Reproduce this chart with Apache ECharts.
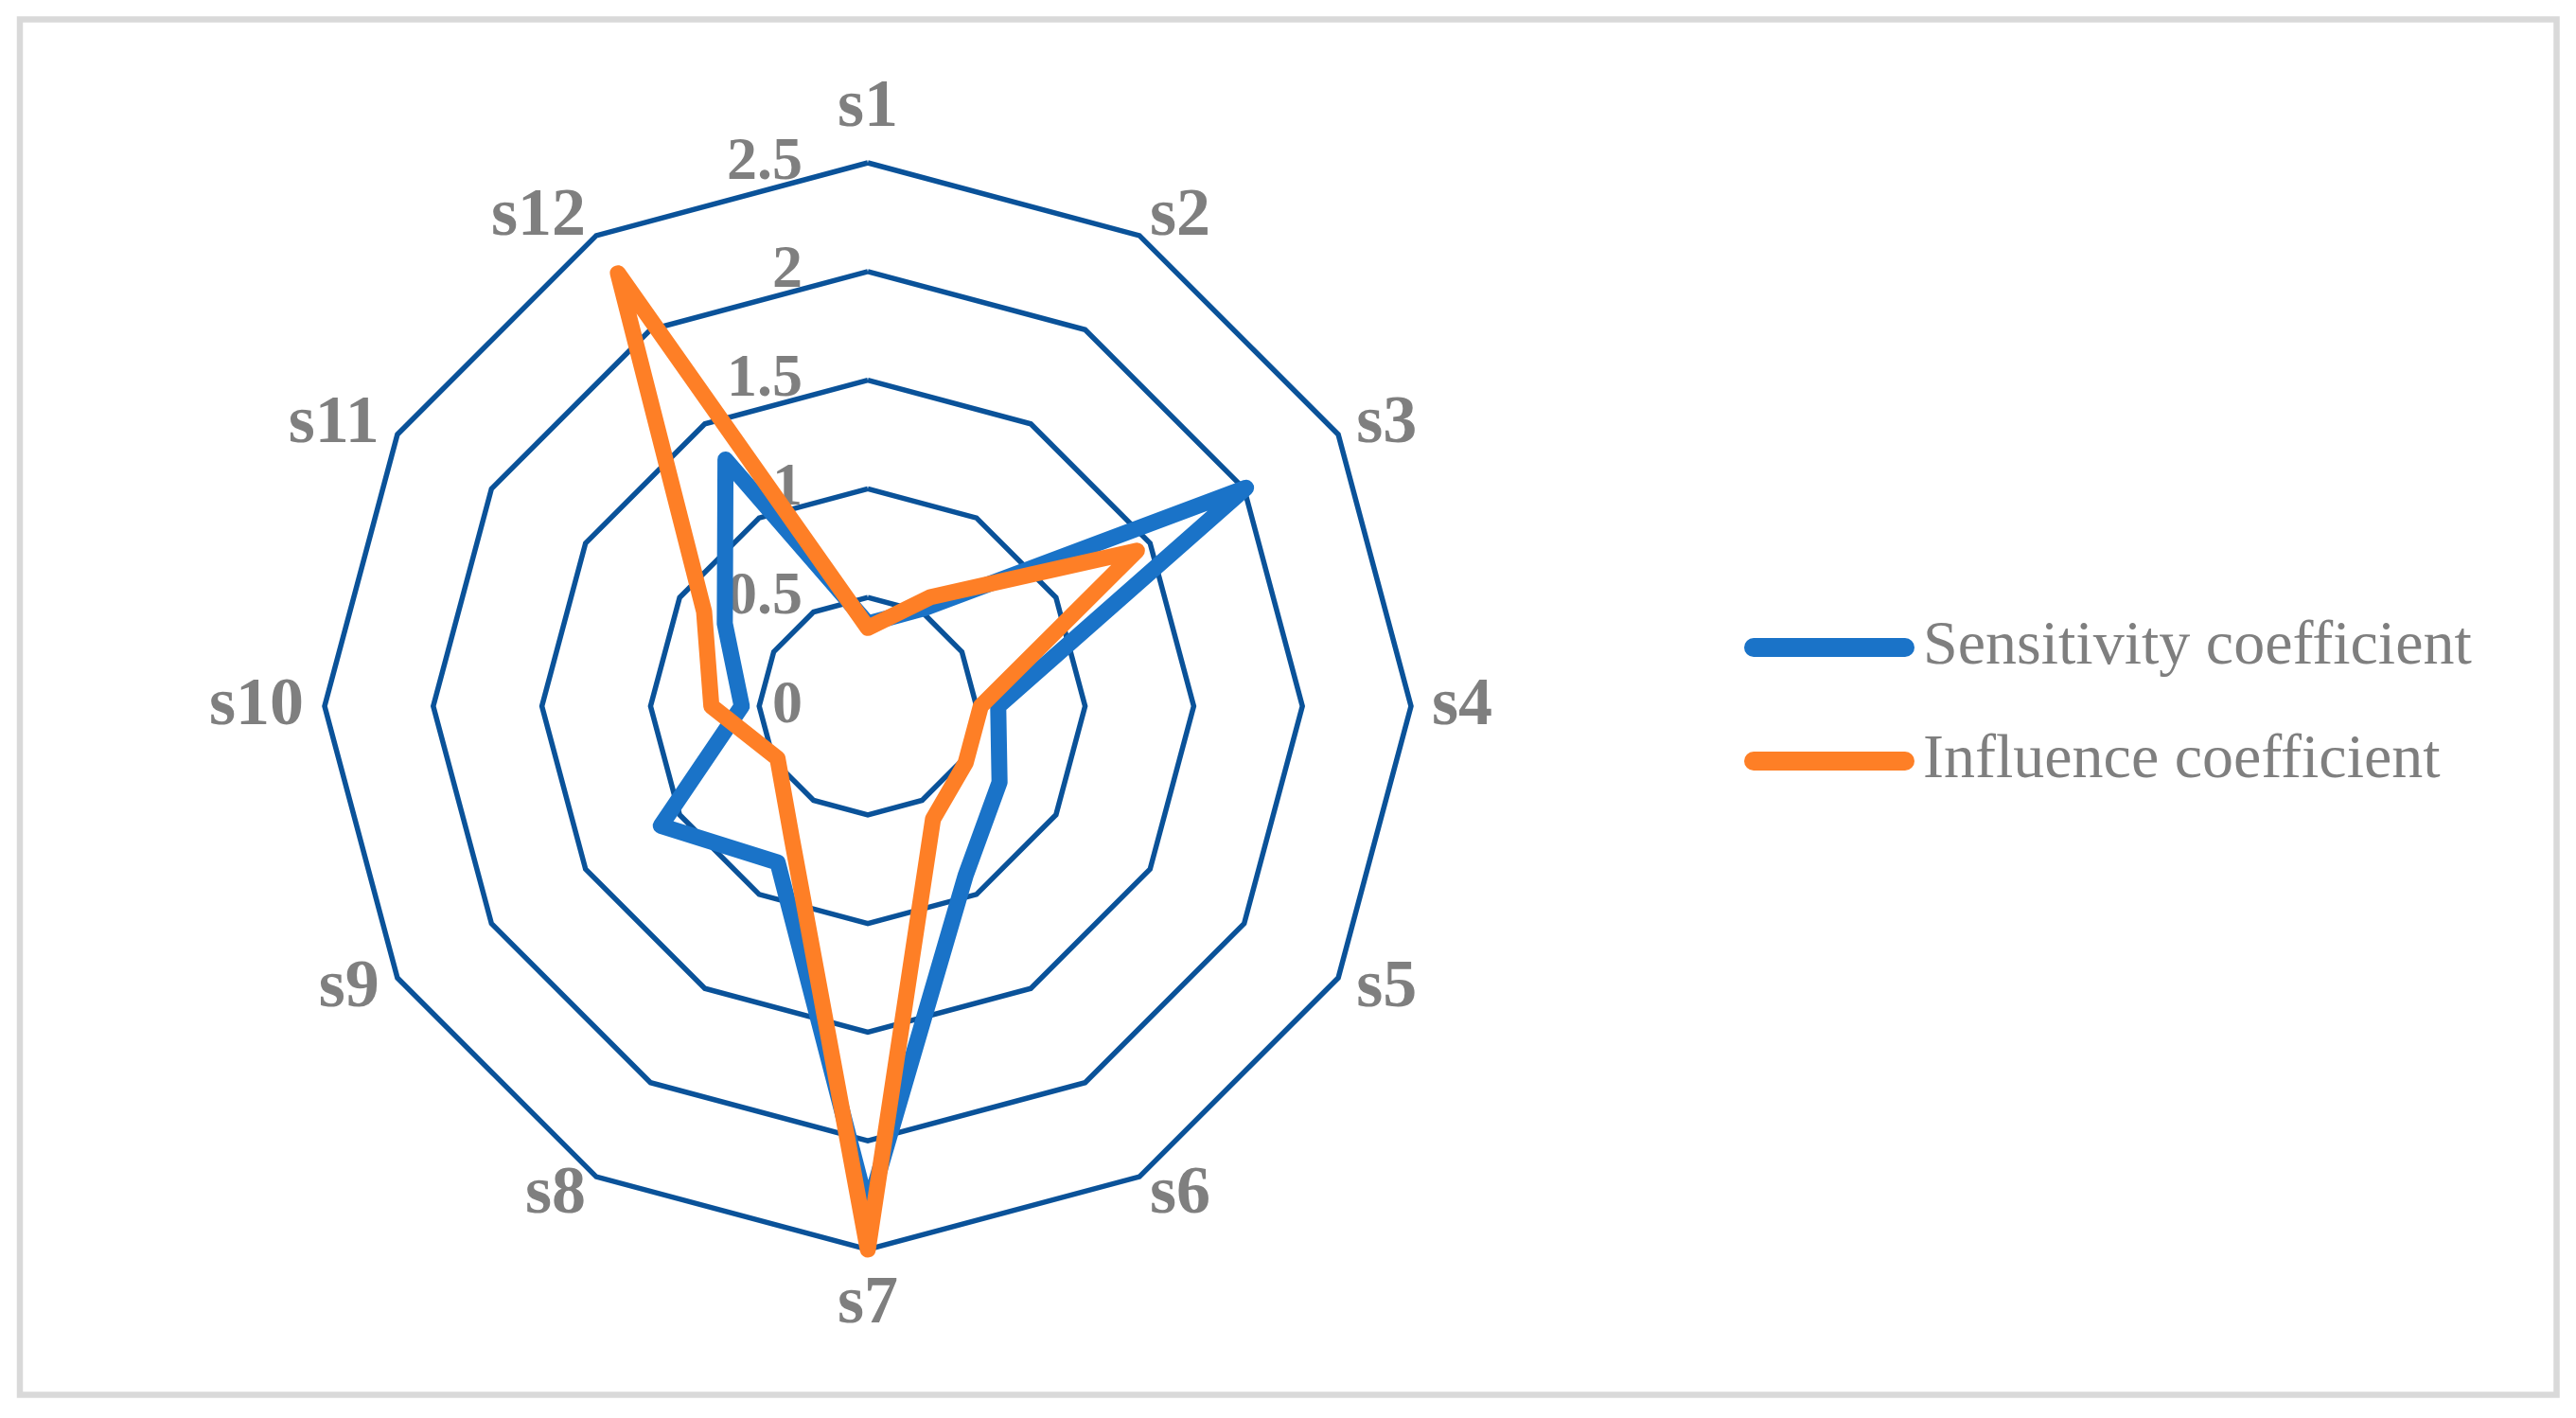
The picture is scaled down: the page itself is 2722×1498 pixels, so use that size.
<!DOCTYPE html>
<html>
<head>
<meta charset="utf-8">
<title>Sensitivity / Influence radar</title>
<script src="https://cdn.jsdelivr.net/npm/echarts@6/dist/echarts.min.js"></script>
<style>
  html, body { margin: 0; padding: 0; background: #fff; }
  #chart { width: 2722px; height: 1498px; }
</style>
</head>
<body>
<div id="chart"></div>
<script>
// data, s1..s12 clockwise from the top
const categories = ['s1', 's2', 's3', 's4', 's5', 's6', 's7', 's8', 's9', 's10', 's11', 's12']
const sensitivity = [0.38, 0.52, 2.01, 0.6, 0.7, 0.9, 2.32, 0.83, 1.1, 0.58, 0.76, 1.31]
const influence = [0.36, 0.58, 1.43, 0.52, 0.52, 0.6, 2.5, 0.7, 0.48, 0.72, 0.87, 2.3]
const seriesNames = ['Sensitivity coefficient', 'Influence coefficient']
const tickValues = [0, 0.5, 1, 1.5, 2, 2.5]

const FONT = "'Liberation Serif', 'Times New Roman', serif"
const GREY = '#7f7f7f'
const RING = '#0a5299'
const BLUE = '#1a73c8'
const ORANGE = '#fe7f26'

const cx = 917
const cy = 746
const radius = 574
const maxVal = tickValues[tickValues.length - 1]

// echarts lays radar indicators out counter-clockwise, the picture goes clockwise
const order = categories.map((c, i) => (i === 0 ? 0 : categories.length - i))
const reorder = (arr) => order.map((i) => arr[i])

const chart = echarts.init(document.getElementById('chart'), null, { renderer: 'canvas' })

const pill = 'path://M10 0H170A10 10 0 0 1 170 20H10A10 10 0 0 1 10 0Z'

const option = {
    backgroundColor: '#ffffff',
    animation: false,
    graphic: [
        {
            type: 'rect',
            shape: { x: 21, y: 20.5, width: 2680.5, height: 1453 },
            style: { fill: 'none', stroke: '#d9d9d9', lineWidth: 6.5 },
            silent: true,
        },
    ],
    legend: {
        orient: 'vertical',
        left: 1843,
        top: 651,
        padding: 0,
        itemWidth: 180,
        itemHeight: 20,
        itemGap: 54,
        icon: pill,
        data: seriesNames,
        textStyle: {
            fontFamily: FONT,
            fontSize: 66,
            lineHeight: 66,
            color: GREY,
            padding: [0, 0, 0, 4],
        },
    },
    radar: {
        center: [cx, cy],
        radius: radius,
        startAngle: 90,
        shape: 'polygon',
        splitNumber: tickValues.length - 1,
        nameGap: 22,
        axisName: {
            color: GREY,
            fontSize: 72,
            fontWeight: 'bold',
            fontFamily: FONT,
        },
        indicator: reorder(categories).map((name) => ({ name: name, min: 0, max: maxVal })),
        axisLine: { show: false },
        axisTick: { show: false },
        axisLabel: { show: false },
        splitArea: { show: false },
        splitLine: { lineStyle: { color: RING, width: 5.5 } },
    },
    // value labels along the s1 spoke
    grid: {
        left: cx,
        top: cy - radius,
        width: 1,
        height: radius,
    },
    xAxis: { type: 'value', show: false },
    yAxis: {
        type: 'value',
        min: tickValues[0],
        max: maxVal,
        interval: tickValues[1] - tickValues[0],
        axisLine: { show: false },
        axisTick: { show: false },
        splitLine: { show: false },
        axisLabel: {
            margin: 69,
            color: GREY,
            fontSize: 64,
            fontWeight: 'bold',
            fontFamily: FONT,
        },
    },
    series: [
        {
            type: 'radar',
            symbol: 'none',
            data: [
                {
                    name: seriesNames[0],
                    value: reorder(sensitivity),
                    itemStyle: { color: BLUE },
                    lineStyle: { color: BLUE, width: 17, join: 'round', cap: 'round' },
                },
                {
                    name: seriesNames[1],
                    value: reorder(influence),
                    itemStyle: { color: ORANGE },
                    lineStyle: { color: ORANGE, width: 17, join: 'round', cap: 'round' },
                },
            ],
        },
    ],
}

chart.setOption(option)
</script>
</body>
</html>
